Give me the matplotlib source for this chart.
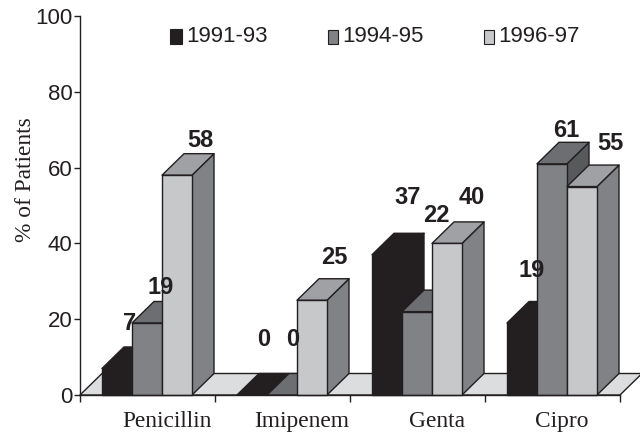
import matplotlib
matplotlib.use("Agg")
import matplotlib.pyplot as plt
from matplotlib.patches import Polygon, Rectangle

categories = ["Penicillin", "Imipenem", "Genta", "Cipro"]
years = ["1991-93", "1994-95", "1996-97"]
v1991 = [7, 0, 37, 19]
v1994 = [19, 0, 22, 61]
v1996 = [58, 25, 40, 55]
series = [v1991, v1994, v1996]

# style: front, top, side per series
front = ["#231f20", "#808285", "#c7c8ca"]
top = ["#231f20", "#6d6e71", "#a0a1a4"]
side = ["#231f20", "#58595b", "#808285"]
ink = "#231f20"
floor_c = "#dcddde"

W, H = 640, 432
L, R, B, T = 80, 620, 395, 16
fig = plt.figure(figsize=(6.4, 4.32), dpi=100)
ax = fig.add_axes([L / W, 1 - B / H, (R - L) / W, (B - T) / H])
ax.set_xlim(0, 4)
ax.set_ylim(0, 100)

dx = 22 / 135
dy = 21.5 / 3.79
bw = 30 / 135
start = 0.163


def poly(pts, fc, ec=ink, z=2):
    ax.add_patch(Polygon(pts, closed=True, fc=fc, ec=ec, lw=1.0, clip_on=False, zorder=z, joinstyle="round"))


# floor
poly([(0, 0), (dx, dy), (4 + dx, dy), (4, 0)], floor_c, z=1)

# bars
z = 2
for g in range(len(categories)):
    for s, vals in enumerate(series):
        v = vals[g]
        x0 = g + start + s * bw
        x1 = x0 + bw
        poly([(x1, 0), (x1 + dx, dy), (x1 + dx, v + dy), (x1, v)], side[s], z=z)
        poly([(x0, v), (x0 + dx, v + dy), (x1 + dx, v + dy), (x1, v)], top[s], z=z)
        if v > 0:
            poly([(x0, 0), (x1, 0), (x1, v), (x0, v)], front[s], z=z)
        z += 0.01

# value labels, offsets in pixels from the front-top centre of each bar
offsets = [
    [(13, 45), (12, 55), (21, 57), (10, 52)],
    [(14, 35), (11, 55), (19, 96), (14, 33)],
    [(23, 35), (22, 43), (25, 46), (28, 43)],
]
for s, vals in enumerate(series):
    for g, v in enumerate(vals):
        xc = g + start + (s + 0.5) * bw
        ax.annotate(str(v), (xc, v), xytext=offsets[s][g], textcoords="offset pixels",
                    ha="center", va="center", family="Liberation Sans", fontweight="bold",
                    fontsize=17, color=ink, zorder=10, annotation_clip=False)

# axes
for sp in ("top", "right"):
    ax.spines[sp].set_visible(False)
for sp in ("left", "bottom"):
    ax.spines[sp].set_color(ink)
    ax.spines[sp].set_linewidth(1.0)
    ax.spines[sp].set_zorder(5)
ax.set_yticks(range(0, 101, 20))
ax.tick_params(axis="y", length=4, width=1, color=ink, labelcolor=ink, pad=1.5, labelsize=16)
for t in ax.get_yticklabels():
    t.set_family("Liberation Sans")
ax.set_xticks(range(5))
ax.set_xticklabels([])
ax.tick_params(axis="x", which="major", length=5, width=1, color=ink)
ax.set_xticks([0.644, 1.644, 2.644, 3.57], minor=True)
ax.set_xticklabels(categories, minor=True, family="Liberation Serif", fontsize=16.8, color=ink)
ax.tick_params(axis="x", which="minor", length=0, pad=11.5)
ax.set_ylabel("% of Patients", family="Liberation Serif", fontsize=16.8, color=ink)
ax.yaxis.set_label_coords(-44 / (R - L), 0.567)

# legend
leg_x = [170, 328, 484]
for s, (yr, lx) in enumerate(zip(years, leg_x)):
    fig.add_artist(Rectangle((lx / W, 1 - 44 / H), (10 if s else 12) / W, (14 if s else 15) / H, fc=front[s], ec=ink, lw=0.8,
                             transform=fig.transFigure))
    fig.text((lx + (14 if s else 16)) / W, 1 - 36 / H, yr, family="Liberation Sans", fontsize=16,
             color=ink, ha="left", va="center")

fig.savefig("out.png", dpi=100)
